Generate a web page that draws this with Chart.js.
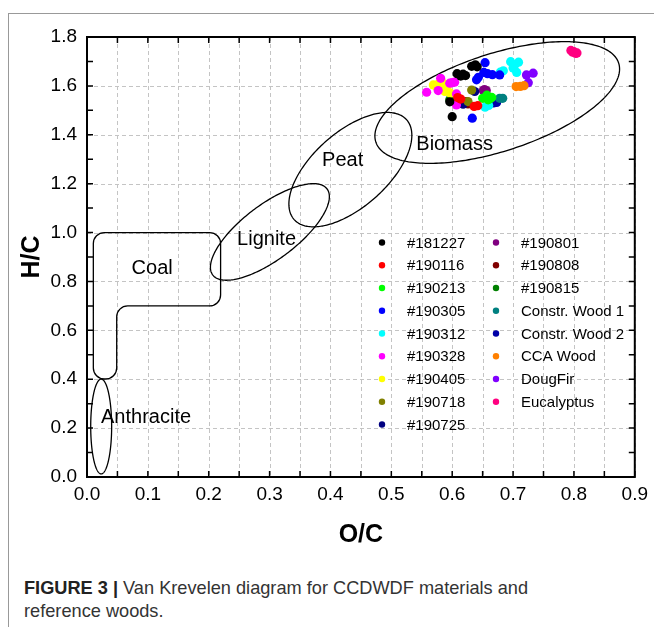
<!DOCTYPE html>
<html><head><meta charset="utf-8">
<script src="https://cdn.jsdelivr.net/npm/chart.js@4/dist/chart.umd.min.js"></script>
<style>
html,body{margin:0;padding:0;background:#fff;width:654px;height:627px;overflow:hidden;}
#frame{position:absolute;left:8px;top:13px;width:700px;height:700px;border-left:1px solid #999;border-top:1px solid #999;}
#wrap{position:absolute;left:0;top:0;width:654px;height:560px;}
#cap{position:absolute;left:24px;top:577px;font-family:"Liberation Sans",Arial,sans-serif;font-size:18.2px;color:#333;line-height:23px;white-space:nowrap;}
</style></head>
<body>
<div id="frame"></div>
<div id="wrap"><canvas id="c" width="654" height="560"></canvas></div>
<div id="cap"><b style="color:#222">FIGURE 3 |</b> Van Krevelen diagram for CCDWDF materials and<br>reference woods.</div>
<script>
// ---------- data ----------
const seriesNames = ['#181227','#190116','#190213','#190305','#190312','#190328','#190405','#190718','#190725',
  '#190801','#190808','#190815','Constr. Wood 1','Constr. Wood 2','CCA Wood','DougFir','Eucalyptus'];
const seriesColors = ['#000000','#ff0000','#00ff00','#0000ff','#00ffff','#ff00ff','#ffff00','#808000','#000080',
  '#800080','#800000','#008000','#008080','#0000a8','#ff8000','#8000ff','#ff0080'];

const s181227 = [[0.608,1.650],[0.614,1.640],[0.618,1.648],[0.622,1.642],[0.632,1.680],[0.638,1.686],[0.641,1.678],[0.596,1.535],[0.600,1.474]];
const s190116 = [[0.609,1.552],[0.614,1.546],[0.636,1.516],[0.642,1.519]];
const s190213 = [[0.650,1.549],[0.657,1.562],[0.659,1.543],[0.665,1.553],[0.662,1.547]];
const s190305 = [[0.654,1.695],[0.643,1.635],[0.640,1.625],[0.652,1.655],[0.658,1.650],[0.666,1.646],[0.678,1.645],[0.633,1.468]];
const s190312 = [[0.696,1.699],[0.709,1.697],[0.703,1.686],[0.700,1.673],[0.706,1.655],[0.684,1.662],[0.679,1.656],[0.654,1.513],[0.660,1.520]];
const s190328 = [[0.581,1.631],[0.558,1.574],[0.577,1.581],[0.604,1.615],[0.607,1.567],[0.607,1.522],[0.596,1.611],[0.600,1.613]];
const s190405 = [[0.569,1.604],[0.577,1.607],[0.585,1.611],[0.592,1.600],[0.588,1.577],[0.597,1.570],[0.574,1.598],[0.581,1.603]];
const s190718 = [[0.632,1.583],[0.626,1.536]];
const s190725 = [[0.637,1.577],[0.618,1.525]];
const s190801 = [[0.651,1.581],[0.656,1.581],[0.653,1.585]];
const s190808 = [[0.623,1.536],[0.626,1.526],[0.621,1.530]];
const s190815 = [[0.596,1.543],[0.603,1.543],[0.607,1.545],[0.600,1.548]];
const sConstr1 = [[0.678,1.549],[0.683,1.549]];
const sConstr2 = [[0.665,1.532],[0.673,1.532],[0.668,1.530]];
const sCCA     = [[0.705,1.597],[0.712,1.598],[0.718,1.601]];
const sDougFir = [[0.722,1.645],[0.733,1.652],[0.725,1.613]];
const sEucal   = [[0.795,1.745],[0.800,1.740],[0.803,1.733],[0.798,1.738],[0.805,1.735]];
const seriesValues = [s181227,s190116,s190213,s190305,s190312,s190328,s190405,s190718,s190725,
  s190801,s190808,s190815,sConstr1,sConstr2,sCCA,sDougFir,sEucal];

const xTickValues = [0,0.1,0.2,0.3,0.4,0.5,0.6,0.7,0.8,0.9];
const xTickLabels = ['0.0','0.1','0.2','0.3','0.4','0.5','0.6','0.7','0.8','0.9'];
const xMinorValues = [0.05,0.15,0.25,0.35,0.45,0.55,0.65,0.75,0.85];
const yTickValues = [0,0.2,0.4,0.6,0.8,1.0,1.2,1.4,1.6,1.8];
const yTickLabels = ['0.0','0.2','0.4','0.6','0.8','1.0','1.2','1.4','1.6','1.8'];
const yMinorValues = [0.1,0.3,0.5,0.7,0.9,1.1,1.3,1.5,1.7];

// region outlines (data units): ellipses given by centre, half x-extent, half y-extent, correlation
const regionEllipses = [
  {cx:0.0233, cy:0.2066, hx:0.0172, hy:0.194, rho:0},      // Anthracite
  {cx:0.3005, cy:1.0025, hx:0.0977, hy:0.1976, rho:0.73},  // Lignite
  {cx:0.4327, cy:1.2574, hx:0.101,  hy:0.234, rho:0.60},   // Peat
  {cx:0.674,  cy:1.532,  hx:0.201,  hy:0.249, rho:0.55}    // Biomass
];
const coalOutline = [[0.0104,1.0],[0.2195,1.0],[0.2195,0.70],[0.0488,0.70],[0.0488,0.401],[0.0104,0.401]];
const regionNames = ['Coal','Lignite','Peat','Biomass','Anthracite'];
const regionNameAt = [[0.107,0.855],[0.295,0.970],[0.420,1.293],[0.604,1.362],[0.097,0.245]];

// ---------- chart ----------
const FONT = '"Liberation Sans", Arial, Helvetica, sans-serif';
const near = (a,b)=>Math.abs(a-b)<1e-9;
const allX = xTickValues.concat(xMinorValues).sort((a,b)=>a-b);
const allY = yTickValues.concat(yMinorValues).sort((a,b)=>a-b);

const decorPlugin = {
  id:'decor',
  beforeDatasetsDraw(chart){
    const {ctx, chartArea:a, scales:{x,y}} = chart;
    ctx.save();
    // dashed grid
    ctx.strokeStyle = '#c4c4c4'; ctx.lineWidth = 1; ctx.setLineDash([4,3]);
    allX.forEach(v=>{ const p=Math.round(x.getPixelForValue(v))+0.5; ctx.beginPath(); ctx.moveTo(p,a.top); ctx.lineTo(p,a.bottom); ctx.stroke(); });
    yTickValues.forEach(v=>{ const p=Math.round(y.getPixelForValue(v))+0.5; ctx.beginPath(); ctx.moveTo(a.left,p); ctx.lineTo(a.right,p); ctx.stroke(); });
    ctx.setLineDash([]);
    // region outlines
    ctx.strokeStyle = '#000'; ctx.lineWidth = 1.3;
    regionEllipses.forEach(e=>{
      ctx.beginPath();
      const N=240, s=Math.sqrt(1-e.rho*e.rho);
      for(let i=0;i<=N;i++){
        const t=i/N*2*Math.PI;
        const vx=e.cx+e.hx*Math.cos(t);
        const vy=e.cy+e.hy*(e.rho*Math.cos(t)+s*Math.sin(t));
        const px=x.getPixelForValue(vx), py=y.getPixelForValue(vy);
        if(i===0) ctx.moveTo(px,py); else ctx.lineTo(px,py);
      }
      ctx.closePath(); ctx.stroke();
    });
    const pts = coalOutline.map(p=>[x.getPixelForValue(p[0]), y.getPixelForValue(p[1])]);
    const n = pts.length, r = 11;
    ctx.beginPath();
    const m0 = [(pts[0][0]+pts[1][0])/2,(pts[0][1]+pts[1][1])/2];
    ctx.moveTo(m0[0],m0[1]);
    for(let i=1;i<=n;i++){
      const c=pts[i%n], nx=pts[(i+1)%n];
      ctx.arcTo(c[0],c[1],nx[0],nx[1],r);
    }
    ctx.closePath(); ctx.stroke();
    // region names
    ctx.fillStyle='#000'; ctx.font='20px '+FONT; ctx.textAlign='center'; ctx.textBaseline='middle';
    regionNames.forEach((t,i)=>ctx.fillText(t, x.getPixelForValue(regionNameAt[i][0]), y.getPixelForValue(regionNameAt[i][1])));
    ctx.restore();
  },
  afterDraw(chart){
    const {ctx, chartArea:a, scales:{x,y}} = chart;
    ctx.save();
    // frame
    ctx.strokeStyle='#000'; ctx.lineWidth=2;
    ctx.strokeRect(a.left, a.top, a.right-a.left, a.bottom-a.top);
    // inward ticks
    ctx.lineWidth=1.5; const L=6;
    allX.forEach(v=>{ const p=x.getPixelForValue(v);
      ctx.beginPath(); ctx.moveTo(p,a.bottom); ctx.lineTo(p,a.bottom-L); ctx.moveTo(p,a.top); ctx.lineTo(p,a.top+L); ctx.stroke(); });
    allY.forEach(v=>{ const p=y.getPixelForValue(v);
      ctx.beginPath(); ctx.moveTo(a.left,p); ctx.lineTo(a.left+L,p); ctx.moveTo(a.right,p); ctx.lineTo(a.right-L,p); ctx.stroke(); });
    // legend
    ctx.font='15px '+FONT; ctx.textAlign='left'; ctx.textBaseline='middle';
    chart.data.datasets.forEach((ds,i)=>{
      const col = i<9?0:1, row = i<9?i:i-9;
      const dx = 382 + col*114, ty = 242.5 + row*22.75;
      ctx.fillStyle = ds.backgroundColor;
      ctx.beginPath(); ctx.arc(dx, ty, 3.2, 0, 2*Math.PI); ctx.fill();
      ctx.fillStyle='#000';
      ctx.fillText(ds.label, dx+25, ty+1);
    });
    ctx.restore();
  }
};

new Chart(document.getElementById('c'), {
  type:'scatter',
  data:{ datasets: seriesNames.map((name,i)=>({
    label:name,
    data: seriesValues[i].map(p=>({x:p[0], y:p[1]})),
    backgroundColor: seriesColors[i], borderColor: seriesColors[i],
    borderWidth:0, pointRadius:4.6, pointHoverRadius:4.6
  }))},
  options:{
    responsive:false, animation:false, events:[],
    layout:{padding:{left:13, right:19, top:37, bottom:0}},
    plugins:{legend:{display:false}, tooltip:{enabled:false}},
    scales:{
      x:{ type:'linear', min:0, max:0.9,
        afterBuildTicks(s){ s.ticks = allX.map(v=>({value:v})); },
        afterFit(s){ s.height = 83; },
        grid:{display:false, drawTicks:false}, border:{display:false},
        ticks:{ autoSkip:false, maxRotation:0, padding:6, color:'#000', font:{family:FONT, size:19},
          callback(v){ const i=xTickValues.findIndex(t=>near(t,v)); return i>=0? xTickLabels[i] : ''; } },
        title:{display:true, text:'O/C', color:'#000', font:{family:FONT, size:25, weight:'bold'}, padding:{top:4,bottom:10}}
      },
      y:{ type:'linear', min:0, max:1.8,
        afterBuildTicks(s){ s.ticks = allY.map(v=>({value:v})); },
        afterFit(s){ s.width = 74; },
        grid:{display:false, drawTicks:false}, border:{display:false},
        ticks:{ autoSkip:false, padding:10, color:'#000', font:{family:FONT, size:19},
          callback(v){ const i=yTickValues.findIndex(t=>near(t,v)); return i>=0? yTickLabels[i] : ''; } },
        title:{display:true, text:'H/C', color:'#000', font:{family:FONT, size:25, weight:'bold'}, padding:{top:4,bottom:4}}
      }
    }
  },
  plugins:[decorPlugin]
});
</script>
</body></html>
